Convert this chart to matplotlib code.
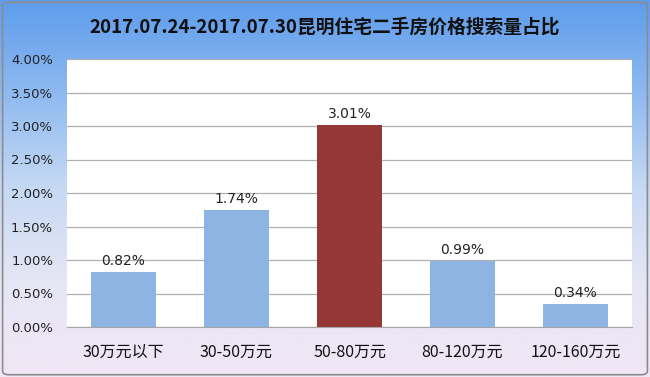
import numpy as np
import matplotlib
matplotlib.use("Agg")
import matplotlib.pyplot as plt
from matplotlib.colors import LinearSegmentedColormap
from matplotlib.patches import FancyBboxPatch

plt.rcParams['font.family'] = ['Noto Sans CJK SC', 'DejaVu Sans']

categories = ["30万元以下", "30-50万元", "50-80万元", "80-120万元", "120-160万元"]
shares = [0.82, 1.74, 3.01, 0.99, 0.34]
labels = ["0.82%", "1.74%", "3.01%", "0.99%", "0.34%"]
highlight = "50-80万元"
yticks = [0.0, 0.5, 1.0, 1.5, 2.0, 2.5, 3.0, 3.5, 4.0]

fig = plt.figure(figsize=(6.5, 3.77), dpi=100)

# background gradient
bg = fig.add_axes([0, 0, 1, 1], zorder=0)
cmap = LinearSegmentedColormap.from_list(
    "bg", ["#5e9cec", "#8fbaf0", "#c6d9f3", "#e6e6f5", "#f1e7f5"])
grad = np.linspace(0, 1, 256).reshape(-1, 1)
bg.imshow(grad, aspect="auto", cmap=cmap, extent=[0, 1, 0, 1], origin="upper")
bg.add_patch(FancyBboxPatch((0.004, 0.006), 0.992, 0.988,
                            boxstyle="round,pad=0,rounding_size=0.01",
                            fill=False, edgecolor="#8c8c8c", lw=1.2,
                            transform=bg.transAxes))
bg.set_xlim(0, 1)
bg.set_ylim(0, 1)
bg.axis("off")

ax = fig.add_axes([67 / 650, 1 - 327 / 377, (632 - 67) / 650, (327 - 59) / 377], zorder=1)
ax.set_facecolor("white")
x = np.arange(len(categories))
colors = ["#953735" if c == highlight else "#8db4e2" for c in categories]
bars = ax.bar(x, shares, width=0.58, color=colors, zorder=2)
for xi, v, lab in zip(x, shares, labels):
    ax.text(xi, v + 0.06, lab, ha="center", va="bottom", fontsize=10,
            color="#222222", family=["DejaVu Sans"])

ax.set_ylim(0, 4.0)
ax.set_xlim(-0.5, len(categories) - 0.5)
ax.set_yticks(yticks)
ax.set_yticklabels([f"{t:.2f}%" for t in yticks], family=["DejaVu Sans"])
ax.set_xticks(x)
ax.set_xticklabels(categories)
ax.yaxis.grid(True, color="#b0b0b0", lw=0.9, zorder=1)
ax.set_axisbelow(True)
ax.tick_params(axis="y", length=0, labelsize=9.5, pad=10, colors="#222222")
ax.tick_params(axis="x", length=0, labelsize=11.5, pad=12, colors="#111111")
for side in ["top", "right", "left"]:
    ax.spines[side].set_visible(False)
ax.spines["bottom"].set_color("#a6a6a6")

fig.text(0.5, 1 - 27 / 377, "2017.07.24-2017.07.30昆明住宅二手房价格搜索量占比",
         ha="center", va="center", fontsize=13.5, fontweight="bold",
         color="#111111")

fig.savefig("out.png", dpi=100)
